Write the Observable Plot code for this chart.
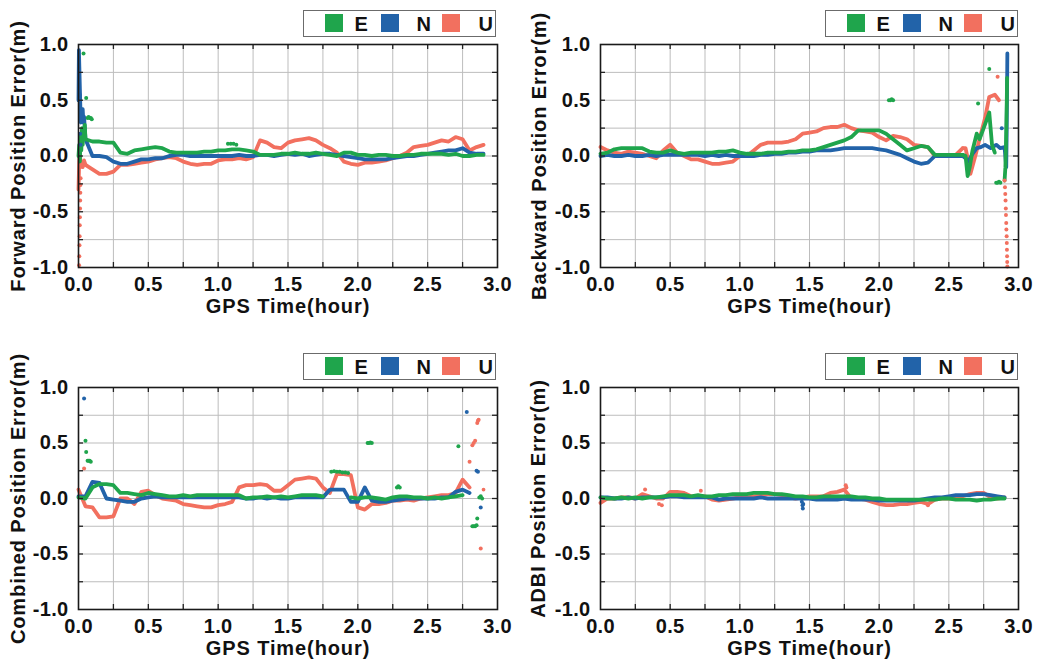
<!DOCTYPE html>
<html><head><meta charset="utf-8">
<script src="https://cdn.jsdelivr.net/npm/d3@7"></script>
<script src="https://cdn.jsdelivr.net/npm/@observablehq/plot@0.6"></script>
<style>
body{margin:0;background:#fff;}
#wrap{position:relative;width:1038px;height:665px;overflow:hidden;background:#fff;font-family:"Liberation Sans",Arial,sans-serif;}
.panel{position:absolute;}
.legend{position:absolute;box-sizing:border-box;width:193px;height:27px;border:1.5px solid #6b6b6b;background:#fff;}
.legend .sw{position:absolute;top:2.5px;width:18px;height:18px;}
.legend .lb{position:absolute;top:2.5px;font:bold 20px "Liberation Sans",Arial,sans-serif;line-height:20px;color:#111;}
svg text{letter-spacing:0.3px;}
g[aria-label="x-axis label"] text, g[aria-label="y-axis label"] text{letter-spacing:0.9px;}
</style>
</head><body>
<div id="wrap"></div>
<script>
// shared time grid (hours)
const time = [0,0.05,0.1,0.15,0.2,0.25,0.3,0.35,0.4,0.45,0.5,0.55,0.6,0.65,0.7,0.75,0.8,0.85,0.9,0.95,1,1.05,1.1,1.15,1.2,1.25,1.3,1.35,1.4,1.45,1.5,1.55,1.6,1.65,1.7,1.75,1.8,1.85,1.9,1.95,2,2.05,2.1,2.15,2.2,2.25,2.3,2.35,2.4,2.45,2.5,2.55,2.6,2.65,2.7,2.75,2.8,2.85,2.9];
const xTicks = [0,0.5,1,1.5,2,2.5,3];
const yTicks = [-1,-0.5,0,0.5,1];
const xGrid = [0.25,0.5,0.75,1,1.25,1.5,1.75,2,2.25,2.5,2.75];
const yGrid = [-0.75,-0.5,-0.25,0,0.25,0.5,0.75];
const comps = ["E","N","U"];
const colors = ["#1fa54c","#2263a9","#f2705f"];

// ---- Forward ----
const fwdE = [null,0.15,0.13,0.13,0.12,0.12,0.03,0.02,0.05,0.06,0.07,0.08,0.07,0.04,0.03,0.03,0.03,0.03,0.04,0.04,0.05,0.05,0.06,0.06,0.05,0.04,0.01,0.01,0.01,0.02,0.02,0.03,0.02,0.02,0.03,0.02,0.01,0.00,0.03,0.03,0.01,0.01,0.00,0.01,0.01,0.00,0.00,0.01,0.01,0.02,0.02,0.02,0.02,0.01,0.02,0.00,0.00,0.01,0.01];
const fwdN = [null,0.15,0.00,0.00,-0.01,-0.05,-0.07,-0.07,-0.05,-0.03,-0.03,-0.02,-0.02,0.00,0.01,0.01,0.00,0.00,0.00,0.00,0.00,0.00,0.00,0.01,0.00,0.00,0.01,0.01,0.00,0.01,0.02,0.01,0.02,0.00,0.01,0.02,0.02,0.01,0.00,-0.01,-0.02,-0.03,-0.03,-0.03,-0.03,-0.02,-0.01,0.00,0.00,0.01,0.02,0.03,0.04,0.05,0.05,0.07,0.03,0.02,0.02];
const fwdU = [null,-0.08,-0.12,-0.16,-0.16,-0.14,-0.08,-0.08,-0.07,-0.06,-0.05,-0.03,-0.02,-0.01,-0.02,-0.05,-0.07,-0.08,-0.07,-0.07,-0.04,-0.03,-0.03,-0.02,-0.03,-0.01,0.14,0.12,0.08,0.07,0.12,0.14,0.15,0.16,0.14,0.10,0.07,0.03,-0.05,-0.07,-0.08,-0.06,-0.06,-0.05,-0.04,-0.02,0.00,0.03,0.08,0.09,0.10,0.12,0.14,0.13,0.17,0.15,0.05,0.08,0.10];
const fwdExtraE = [[0,0.0],[0.005,0.1],[0.01,-0.05],[0.015,0.2],[0.02,0.05],[0.025,0.25],[0.03,0.1],[0.035,0.2],[0.04,0.15],[0.045,0.28],[0.05,0.15]];
const fwdExtraN = [[0,0.5],[0.003,0.95],[0.006,0.8],[0.01,0.6],[0.013,0.45],[0.017,0.3],[0.02,0.4],[0.025,0.35],[0.03,0.42],[0.035,0.3],[0.04,0.35],[0.045,0.25],[0.05,0.15]];
const fwdExtraU = [[0,-0.3],[0.005,-0.05],[0.01,0.05],[0.015,-0.1],[0.02,-0.05],[0.03,-0.1],[0.04,-0.04],[0.05,-0.08]];
const fwdDotE = [[0.036,0.92],[0.055,0.52],[0.065,0.34],[0.072,0.35],[0.08,0.34],[0.088,0.34],[0.095,0.33],[1.07,0.11],[1.09,0.11],[1.11,0.11],[1.13,0.10]];
const fwdDotN = [[0.005,0.75],[0.008,0.55],[0.012,0.2],[0.015,0.1]];
const fwdDotU = [[0.004,-0.98],[0.006,-0.9],[0.007,-0.8],[0.008,-0.72],[0.009,-0.62],[0.01,-0.55],[0.011,-0.47],[0.012,-0.4],[0.013,-0.33],[0.014,-0.26],[0.015,-0.2]];

// ---- Backward ----
const bwdE = [0.02,0.03,0.06,0.07,0.07,0.07,0.07,0.04,0.03,0.03,0.05,0.03,0.02,0.03,0.03,0.03,0.03,0.04,0.04,0.05,0.03,0.02,0.02,0.02,0.03,0.03,0.03,0.04,0.04,0.05,0.05,0.06,0.08,0.10,0.12,0.14,0.17,0.23,0.23,0.23,0.23,0.20,0.15,0.10,0.05,0.07,0.09,0.08,0.01,0.01,0.01,0.01,0.01,null,null,null,null,null,null];
const bwdN = [0.00,0.01,0.00,0.00,0.01,0.00,0.00,0.01,0.00,0.01,0.01,0.01,0.01,0.01,0.01,0.00,0.01,0.00,0.01,0.00,0.00,0.00,0.00,0.01,0.01,0.02,0.02,0.03,0.03,0.04,0.04,0.05,0.05,0.05,0.06,0.07,0.07,0.07,0.07,0.07,0.06,0.05,0.03,0.01,-0.02,-0.05,-0.07,-0.06,0.00,0.00,0.00,0.00,0.00,null,null,null,null,null,null];
const bwdU = [0.08,0.05,0.03,0.02,0.04,0.03,0.02,0.00,-0.02,0.05,0.10,0.03,0.00,-0.03,-0.03,-0.05,-0.07,-0.07,-0.06,-0.05,0.00,0.00,0.05,0.10,0.12,0.12,0.12,0.13,0.15,0.20,0.21,0.22,0.25,0.26,0.26,0.28,0.25,0.23,0.22,0.21,0.17,0.14,0.18,0.17,0.15,0.10,0.09,0.08,0.00,0.01,0.00,0.01,0.07,null,null,null,null,null,null];
const bwdExtraE = [[2.6,0.01],[2.62,0.0],[2.635,-0.18],[2.65,-0.1],[2.67,0.05],[2.7,0.2],[2.72,0.15],[2.75,0.25],[2.79,0.39],[2.81,0.1],[2.83,0.03],[2.86,null],[2.9,-0.22],[2.906,-0.1],[2.91,0.1],[2.913,0.3],[2.916,0.5],[2.918,0.7]];
const bwdExtraN = [[2.6,0.0],[2.62,-0.02],[2.64,-0.05],[2.67,0.02],[2.7,0.07],[2.73,0.08],[2.76,0.1],[2.8,0.07],[2.84,0.1],[2.87,0.07],[2.9,0.08],[2.912,-0.1],[2.915,0.2],[2.917,0.5],[2.919,0.75],[2.92,0.92]];
const bwdExtraU = [[2.6,0.07],[2.62,0.07],[2.64,-0.05],[2.655,-0.16],[2.69,0.0],[2.72,0.15],[2.76,0.34],[2.79,0.53],[2.83,0.55],[2.86,0.5]];
const bwdDotE = [[2.07,0.5],[2.08,0.5],[2.09,0.51],[2.1,0.5],[2.71,0.47],[2.79,0.78],[2.84,-0.24],[2.85,-0.24],[2.86,-0.23],[2.87,-0.24]];
const bwdDotN = [[2.88,0.25]];
const bwdDotU = [[2.85,0.71],[2.9,-0.22],[2.903,-0.28],[2.905,-0.34],[2.907,-0.4],[2.909,-0.47],[2.91,-0.53],[2.912,-0.6],[2.913,-0.66],[2.915,-0.72],[2.916,-0.78],[2.917,-0.84],[2.918,-0.9],[2.919,-0.95],[2.92,-0.99]];

// ---- Combined ----
const cmbE = [0.01,0.00,0.10,0.13,0.13,0.12,0.05,0.05,0.04,0.03,0.05,0.04,0.03,0.02,0.02,0.03,0.02,0.03,0.03,0.03,0.03,0.03,0.03,0.03,0.00,0.01,0.01,0.02,0.01,0.02,0.01,0.02,0.03,0.03,0.03,0.02,null,null,null,0.01,0.00,0.01,0.01,0.00,-0.01,0.01,0.02,0.02,0.01,0.01,0.00,0.01,0.00,0.01,0.02,0.03,null,null,null];
const cmbN = [0.02,0.02,0.15,0.14,0.00,-0.01,-0.02,-0.03,-0.03,0.00,0.01,0.02,0.01,0.01,0.01,0.01,0.01,0.01,0.01,0.01,0.01,0.01,0.01,0.01,0.00,0.00,0.01,0.00,0.01,0.00,0.00,0.01,0.01,0.01,0.01,0.01,0.08,0.08,0.08,-0.03,-0.03,0.10,-0.02,-0.03,-0.03,-0.02,-0.01,0.00,0.00,0.00,0.00,0.00,0.01,0.01,0.06,0.08,0.05,null,null];
const cmbU = [0.08,-0.07,-0.08,-0.17,-0.17,-0.16,0.00,0.00,-0.05,0.06,0.07,0.03,0.00,-0.01,-0.02,-0.05,-0.06,-0.07,-0.08,-0.08,-0.06,-0.05,-0.03,0.10,0.12,0.12,0.13,0.12,0.07,0.07,0.12,0.17,0.18,0.19,0.18,0.10,0.05,0.22,0.22,0.21,-0.08,-0.10,-0.05,-0.05,-0.04,-0.02,-0.02,-0.01,-0.02,0.00,0.01,0.02,0.03,0.03,0.05,0.17,0.10,null,0.08];
const cmbExtraE = [], cmbExtraN = [], cmbExtraU = [];
const cmbDotE = [[0.05,0.52],[0.055,0.42],[0.065,0.34],[0.072,0.34],[0.08,0.34],[0.088,0.33],[1.81,0.24],[1.83,0.245],[1.85,0.24],[1.87,0.24],[1.89,0.235],[1.91,0.235],[1.93,0.23],[2.07,0.5],[2.08,0.5],[2.09,0.505],[2.1,0.5],[2.28,0.1],[2.29,0.11],[2.3,0.1],[2.72,0.47],[2.82,-0.25],[2.83,-0.25],[2.84,-0.25],[2.85,-0.24],[2.855,-0.18],[2.87,0.01],[2.88,0.02],[2.89,0.0]];
const cmbDotN = [[0.04,0.9],[2.78,0.78],[2.85,0.25],[2.86,0.24],[2.88,-0.08]];
const cmbDotU = [[0.04,0.27],[2.8,0.33],[2.82,0.48],[2.83,0.5],[2.84,0.52],[2.855,0.68],[2.86,0.7],[2.865,0.71],[2.88,-0.45]];

// ---- ADBI ----
const adbE = [0.01,0.00,0.00,0.01,0.00,0.01,0.00,0.01,0.01,0.02,0.03,0.03,0.03,0.02,0.03,0.02,0.02,0.03,0.03,0.04,0.04,0.04,0.05,0.05,0.05,0.04,0.04,0.03,0.02,0.02,0.01,0.01,0.02,0.02,0.02,0.02,0.02,0.01,0.01,0.00,0.00,-0.01,-0.01,-0.01,-0.01,-0.01,-0.01,-0.01,-0.01,0.00,0.00,-0.01,-0.01,-0.01,-0.02,-0.01,-0.01,0.00,0.00];
const adbN = [0.01,0.01,0.00,0.00,0.01,0.00,0.01,0.01,0.01,0.01,0.02,0.02,0.01,0.01,0.01,0.01,0.01,-0.01,0.00,0.00,0.00,0.00,0.00,0.01,0.00,0.00,0.00,0.00,0.00,0.00,0.00,-0.01,-0.01,-0.01,-0.01,0.00,-0.01,-0.01,-0.01,-0.01,-0.02,-0.02,-0.02,-0.02,-0.02,-0.02,-0.01,0.00,0.01,0.01,0.02,0.03,0.03,0.03,0.04,0.04,0.03,0.02,0.01];
const adbU = [-0.04,0.00,0.00,0.01,0.01,0.00,0.04,0.02,0.00,0.00,0.06,0.06,0.05,0.02,0.02,0.02,-0.01,-0.02,-0.01,0.00,0.01,0.01,0.02,0.03,0.04,0.04,0.03,0.01,0.00,0.01,0.02,0.02,0.02,0.05,0.06,0.08,0.00,0.00,-0.01,-0.03,-0.05,-0.06,-0.06,-0.05,-0.05,-0.04,-0.03,-0.05,-0.01,0.00,0.00,0.01,0.02,0.04,0.05,0.05,0.01,0.00,0.01];
const adbExtraE = [], adbExtraN = [], adbExtraU = [];
const adbDotE = [];
const adbDotN = [[1.445,-0.03],[1.45,-0.06],[1.452,-0.09],[1.455,-0.05]];
const adbDotU = [[0.32,0.08],[0.42,-0.05],[0.44,-0.06],[0.72,0.07],[1.76,0.12],[1.765,0.1],[2.35,-0.06]];

const panels = [
  {title:"Forward Position Error(m)", left:0, top:0, h:330, mL:78, mR:22, mT:44, mB:63, lo:68,
   grid:{E:fwdE,N:fwdN,U:fwdU}, extra:{E:fwdExtraE,N:fwdExtraN,U:fwdExtraU}, dots:{E:fwdDotE,N:fwdDotN,U:fwdDotU}, leg:[303,10]},
  {title:"Backward Position Error(m)", left:519, top:0, h:330, mL:81, mR:20, mT:44, mB:63, lo:69,
   grid:{E:bwdE,N:bwdN,U:bwdU}, extra:{E:bwdExtraE,N:bwdExtraN,U:bwdExtraU}, dots:{E:bwdDotE,N:bwdDotN,U:bwdDotU}, leg:[825,10]},
  {title:"Combined Position Error(m)", left:0, top:330, h:335, mL:78, mR:22, mT:57, mB:56, lo:68,
   grid:{E:cmbE,N:cmbN,U:cmbU}, extra:{E:cmbExtraE,N:cmbExtraN,U:cmbExtraU}, dots:{E:cmbDotE,N:cmbDotN,U:cmbDotU}, leg:[303,353]},
  {title:"ADBI Position Error(m)", left:519, top:330, h:335, mL:81, mR:20, mT:57, mB:56, lo:70,
   grid:{E:adbE,N:adbN,U:adbU}, extra:{E:adbExtraE,N:adbExtraN,U:adbExtraU}, dots:{E:adbDotE,N:adbDotN,U:adbDotU}, leg:[825,353]}
];

const wrap = document.getElementById("wrap");
const W = 519;
const drawOrder = ["U","N","E"];
const fmt = d => d.toFixed(1);

for (const p of panels) {
  const lineRows = [], dotRows = [];
  for (const c of drawOrder) {
    p.grid[c].forEach((v, i) => lineRows.push({t: time[i], v, c, seg: c + "-g"}));
    p.extra[c].forEach(([t, v]) => lineRows.push({t, v, c, seg: c + "-x"}));
    p.dots[c].forEach(([t, v]) => dotRows.push({t, v, c}));
  }
  const fw = W - p.mL - p.mR, fh = p.h - p.mT - p.mB, tl = 5;
  const svg = Plot.plot({
    width: W, height: p.h,
    marginLeft: p.mL, marginRight: p.mR, marginTop: p.mT, marginBottom: p.mB,
    x: {domain: [0, 3]},
    y: {domain: [-1, 1]},
    color: {domain: comps, range: colors},
    style: {fontFamily: "'Liberation Sans', Arial, sans-serif", fontSize: "20px", fontWeight: "bold", color: "#111", background: "transparent"},
    marks: [
      Plot.gridX(xGrid, {stroke: "#bdbdbd", strokeOpacity: 1, strokeWidth: 1}),
      Plot.gridY(yGrid, {stroke: "#bdbdbd", strokeOpacity: 1, strokeWidth: 1}),
      Plot.line(lineRows, {x: "t", y: "v", z: "seg", stroke: "c", strokeWidth: 3.8, strokeLinejoin: "round", strokeLinecap: "round"}),
      Plot.dot(dotRows, {x: "t", y: "v", fill: "c", r: 2}),
      Plot.ruleX(xGrid, {insetTop: fh - tl, stroke: "#222", strokeWidth: 1.3}),
      Plot.ruleX(xGrid, {insetBottom: fh - tl, stroke: "#222", strokeWidth: 1.3}),
      Plot.ruleY(yGrid, {insetLeft: fw - tl, stroke: "#222", strokeWidth: 1.3}),
      Plot.ruleY(yGrid, {insetRight: fw - tl, stroke: "#222", strokeWidth: 1.3}),
      Plot.frame({stroke: "#1a1a1a", strokeWidth: 1.6}),
      Plot.axisX({ticks: xTicks, tickFormat: fmt, tickSize: 0, tickPadding: 9, label: "GPS Time(hour)", labelAnchor: "center", labelArrow: "none", labelOffset: 45}),
      Plot.axisY({ticks: yTicks, tickFormat: fmt, tickSize: 0, tickPadding: 10, label: p.title, labelAnchor: "center", labelArrow: "none", labelOffset: p.lo})
    ]
  });
  svg.classList.add("panel");
  svg.style.left = p.left + "px";
  svg.style.top = p.top + "px";
  wrap.appendChild(svg);

  const leg = document.createElement("div");
  leg.className = "legend";
  leg.style.left = p.leg[0] + "px";
  leg.style.top = p.leg[1] + "px";
  const swX = [20.5, 76.5, 137.5], lbX = [50.5, 112.5, 174.5];
  comps.forEach((c, i) => {
    const sw = document.createElement("div");
    sw.className = "sw"; sw.style.left = swX[i] + "px"; sw.style.background = colors[i];
    const lb = document.createElement("div");
    lb.className = "lb"; lb.style.left = lbX[i] + "px"; lb.textContent = c;
    leg.appendChild(sw); leg.appendChild(lb);
  });
  wrap.appendChild(leg);
}
</script>
</body></html>
